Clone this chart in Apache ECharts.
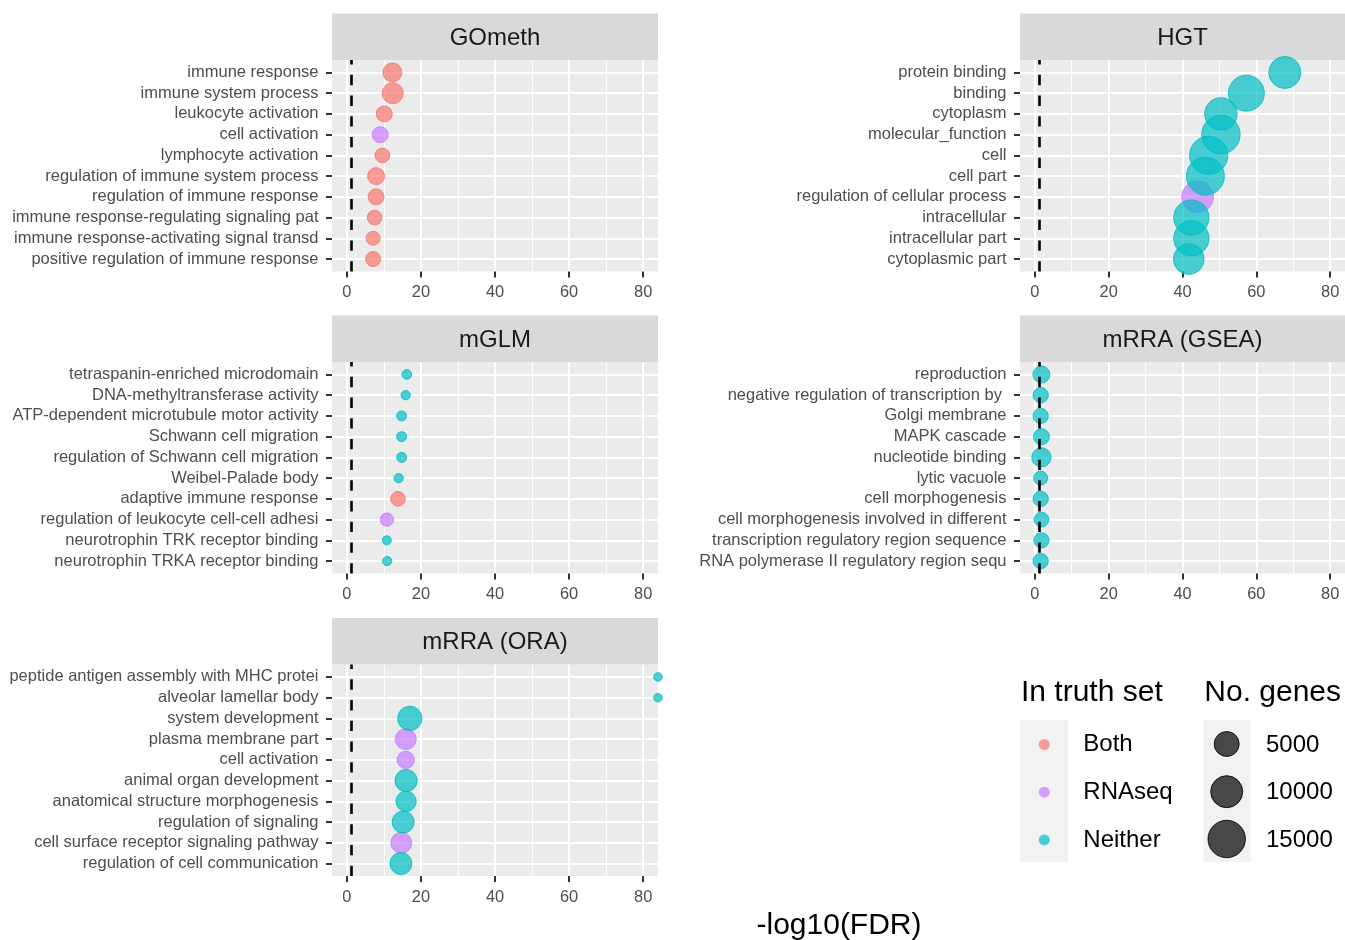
<!DOCTYPE html>
<html><head><meta charset="utf-8">
<script src="https://cdn.jsdelivr.net/npm/echarts@6/dist/echarts.min.js"></script>
<style>html,body{margin:0;padding:0;background:#fff}#c{width:1345px;height:940px}</style>
</head><body><div id="c"></div>
<script>
// ---------------- data ----------------
const panelNames = ['GOmeth', 'HGT', 'mGLM', 'mRRA (GSEA)', 'mRRA (ORA)'];

const gomethTerms = ['immune response', 'immune system process', 'leukocyte activation', 'cell activation',
  'lymphocyte activation', 'regulation of immune system process', 'regulation of immune response',
  'immune response-regulating signaling pat', 'immune response-activating signal transd',
  'positive regulation of immune response'];
const gomethFDR = [12.3, 12.4, 10.1, 9.0, 9.6, 7.9, 7.9, 7.5, 7.1, 7.1];
const gomethGenes = [2100, 2930, 1110, 1110, 780, 1400, 1110, 780, 625, 850];
const gomethTruth = ['Both', 'Both', 'Both', 'RNAseq', 'Both', 'Both', 'Both', 'Both', 'Both', 'Both'];

const hgtTerms = ['protein binding', 'binding', 'cytoplasm', 'molecular_function', 'cell', 'cell part',
  'regulation of cellular process', 'intracellular', 'intracellular part', 'cytoplasmic part'];
const hgtFDR = [67.7, 57.3, 50.4, 50.4, 47.1, 46.2, 44.1, 42.4, 42.4, 41.7];
const hgtGenes = [10000, 13600, 10250, 16150, 15940, 15625, 9750, 12940, 12940, 8945];
const hgtTruth = ['Neither', 'Neither', 'Neither', 'Neither', 'Neither', 'Neither', 'RNAseq', 'Neither', 'Neither', 'Neither'];

const mglmTerms = ['tetraspanin-enriched microdomain', 'DNA-methyltransferase activity',
  'ATP-dependent microtubule motor activity', 'Schwann cell migration', 'regulation of Schwann cell migration',
  'Weibel-Palade body', 'adaptive immune response', 'regulation of leukocyte cell-cell adhesi',
  'neurotrophin TRK receptor binding', 'neurotrophin TRKA receptor binding'];
const mglmFDR = [16.2, 15.9, 14.8, 14.8, 14.8, 14.0, 13.8, 10.8, 10.8, 10.9];
const mglmGenes = [50, 29, 69, 69, 69, 29, 780, 488, 17, 29];
const mglmTruth = ['Neither', 'Neither', 'Neither', 'Neither', 'Neither', 'Neither', 'Both', 'RNAseq', 'Neither', 'Neither'];

const gseaTerms = ['reproduction', 'negative regulation of transcription by ', 'Golgi membrane', 'MAPK cascade',
  'nucleotide binding', 'lytic vacuole', 'cell morphogenesis', 'cell morphogenesis involved in different',
  'transcription regulatory region sequence', 'RNA polymerase II regulatory region sequ'];
const gseaFDR = [1.8, 1.6, 1.6, 1.8, 1.8, 1.6, 1.6, 1.8, 1.8, 1.6];
const gseaGenes = [1406, 925, 925, 1111, 2217, 625, 925, 779, 925, 925];
const gseaTruth = ['Neither', 'Neither', 'Neither', 'Neither', 'Neither', 'Neither', 'Neither', 'Neither', 'Neither', 'Neither'];

const oraTerms = ['peptide antigen assembly with MHC protei', 'alveolar lamellar body', 'system development',
  'plasma membrane part', 'cell activation', 'animal organ development', 'anatomical structure morphogenesis',
  'regulation of signaling', 'cell surface receptor signaling pathway', 'regulation of cell communication'];
const oraFDR = [Infinity, Infinity, 17.0, 15.9, 15.9, 16.0, 16.0, 15.2, 14.7, 14.6];
const oraGenes = [5, 5, 4613, 2934, 1502, 3550, 2627, 3403, 2934, 3403];
const oraTruth = ['Neither', 'Neither', 'Neither', 'RNAseq', 'RNAseq', 'Neither', 'Neither', 'Neither', 'RNAseq', 'Neither'];

const truthLevels = ['Both', 'RNAseq', 'Neither'];
const sizeBreaks = [5000, 10000, 15000];
const xTicks = [0, 20, 40, 60, 80];
const xMinorTicks = [10, 30, 50, 70];
const fdrCutoff = 0.05;

// ---------------- styling / layout ----------------
const FONT = "'Liberation Sans', Arial, Helvetica, sans-serif";
const truthColor = { Both: [248, 118, 109], RNAseq: [199, 124, 255], Neither: [0, 191, 196] };
const rgba = (c, a) => `rgba(${c[0]},${c[1]},${c[2]},${a})`;
const sizeFn = n => 8 + 0.24 * Math.sqrt(n);
const X_MIN = -4, X_MAX = 84, Y_MIN = 0.4, Y_MAX = 10.6;
const COLS = [{ left: 332, width: 326 }, { left: 1020, width: 325 }];
const ROW_TOPS = [60, 362, 664.5];
const PANEL_H = 211.5, STRIP_H = 46.5;

const panels = [
  { terms: gomethTerms, fdr: gomethFDR, genes: gomethGenes, truth: gomethTruth },
  { terms: hgtTerms, fdr: hgtFDR, genes: hgtGenes, truth: hgtTruth },
  { terms: mglmTerms, fdr: mglmFDR, genes: mglmGenes, truth: mglmTruth },
  { terms: gseaTerms, fdr: gseaFDR, genes: gseaGenes, truth: gseaTruth },
  { terms: oraTerms, fdr: oraFDR, genes: oraGenes, truth: oraTruth }
];

const grids = [], xAxes = [], yAxes = [], series = [], graphics = [];
const thr = -Math.log10(fdrCutoff);

panels.forEach((p, i) => {
  const col = COLS[i % 2], top = ROW_TOPS[Math.floor(i / 2)];
  grids.push({ left: col.left, top: top, width: col.width, height: PANEL_H, show: true,
    backgroundColor: '#ebebeb', borderWidth: 0 });
  const ranks = p.terms.map((t, k) => k + 1);
  xAxes.push({ type: 'value', gridIndex: i, min: X_MIN, max: X_MAX,
    axisLine: { show: false, onZero: false },
    axisTick: { show: true, customValues: xTicks, length: 6, lineStyle: { color: '#333333', width: 2 } },
    axisLabel: { customValues: xTicks, margin: 13, color: '#4d4d4d', fontSize: 16.4, fontFamily: FONT },
    splitLine: { show: true, lineStyle: { color: '#ffffff', width: 2 } } });
  xAxes.push({ type: 'value', gridIndex: i, position: 'top', min: X_MIN, max: X_MAX,
    axisLine: { show: false, onZero: false },
    axisTick: { show: false, customValues: xMinorTicks },
    axisLabel: { show: false, customValues: xMinorTicks },
    splitLine: { show: true, lineStyle: { color: '#ffffff', width: 1 } } });
  yAxes.push({ type: 'value', gridIndex: i, min: Y_MIN, max: Y_MAX, inverse: true,
    axisLine: { show: false, onZero: false },
    axisTick: { show: true, customValues: ranks, length: 6, lineStyle: { color: '#333333', width: 2 } },
    axisLabel: { customValues: ranks, margin: 13.5, color: '#4d4d4d', fontSize: 16.5, fontFamily: FONT,
      padding: [2, 0, 0, 0],
      formatter: v => p.terms[Math.round(v) - 1] },
    splitLine: { show: true, lineStyle: { color: '#ffffff', width: 2 } } });

  truthLevels.forEach(g => {
    const data = [];
    p.terms.forEach((t, k) => {
      if (p.truth[k] === g) {
        const x = isFinite(p.fdr[k]) ? p.fdr[k] : X_MAX;
        data.push([x, k + 1, p.genes[k]]);
      }
    });
    series.push({ type: 'scatter', name: g, xAxisIndex: 2 * i, yAxisIndex: i, data: data,
      symbol: 'circle', symbolSize: v => sizeFn(v[2]), z: 3,
      itemStyle: { color: rgba(truthColor[g], 0.7), borderColor: rgba(truthColor[g], 0.85), borderWidth: 1, opacity: 1 },
      emphasis: { disabled: true }, animation: false });
  });
  series.push({ type: 'scatter', name: 'cutoff', xAxisIndex: 2 * i, yAxisIndex: i, data: [], animation: false,
    markLine: { silent: true, symbol: ['none', 'none'], label: { show: false }, z: 10, animation: false,
      lineStyle: { color: '#000000', width: 2.6, type: [10.35, 10.35], opacity: 1 },
      emphasis: { disabled: true },
      data: [[{ coord: [thr, Y_MAX] }, { coord: [thr, Y_MIN] }]] } });

  // strip
  graphics.push({ type: 'rect', shape: { x: col.left, y: top - STRIP_H, width: col.width, height: STRIP_H },
    style: { fill: '#d9d9d9' }, silent: true });
  graphics.push({ type: 'text', x: col.left + col.width / 2, y: top - STRIP_H / 2 + 1.5,
    style: { text: panelNames[i], fill: '#1a1a1a', fontSize: 24, fontFamily: FONT, align: 'center', verticalAlign: 'middle' }, silent: true });
});

// x-axis title
graphics.push({ type: 'text', x: 839, y: 926,
  style: { text: '-log10(FDR)', fill: '#000000', fontSize: 30, fontFamily: FONT, align: 'center', verticalAlign: 'middle' } });

// legend backgrounds & titles
const LEG_Y = [744, 791.7, 839];
graphics.push({ type: 'rect', shape: { x: 1020, y: 720, width: 48.3, height: 141.7 }, style: { fill: '#f2f2f2' }, z: -1 });
graphics.push({ type: 'rect', shape: { x: 1203.3, y: 720, width: 47.4, height: 141.7 }, style: { fill: '#f2f2f2' }, z: -1 });
graphics.push({ type: 'text', x: 1021, y: 693,
  style: { text: 'In truth set', fill: '#000', fontSize: 30, fontFamily: FONT, align: 'left', verticalAlign: 'middle' } });
graphics.push({ type: 'text', x: 1204.3, y: 693,
  style: { text: 'No. genes', fill: '#000', fontSize: 30, fontFamily: FONT, align: 'left', verticalAlign: 'middle' } });
sizeBreaks.forEach((n, k) => {
  graphics.push({ type: 'circle', shape: { cx: 1226.7, cy: LEG_Y[k], r: sizeFn(n) / 2 },
    style: { fill: 'rgba(0,0,0,0.7)', stroke: 'rgba(0,0,0,0.85)', lineWidth: 1 } });
  graphics.push({ type: 'text', x: 1266, y: LEG_Y[k] + 1,
    style: { text: String(n), fill: '#000', fontSize: 24, fontFamily: FONT, align: 'left', verticalAlign: 'middle' } });
});

const chart = echarts.init(document.getElementById('c'), null, { renderer: 'canvas' });
chart.setOption({
  animation: false,
  backgroundColor: '#ffffff',
  grid: grids, xAxis: xAxes, yAxis: yAxes, series: series,
  legend: { data: truthLevels, orient: 'vertical', left: 1038.8, top: 731.5, padding: 0,
    itemWidth: 11, itemHeight: 11, itemGap: 21.7, icon: 'circle', selectedMode: false,
    itemStyle: { borderWidth: 0 },
    textStyle: { fontSize: 24, color: '#000', fontFamily: FONT, lineHeight: 24, padding: [2, 0, 0, 28.5] } },
  graphic: { elements: graphics }
});
</script></body></html>
